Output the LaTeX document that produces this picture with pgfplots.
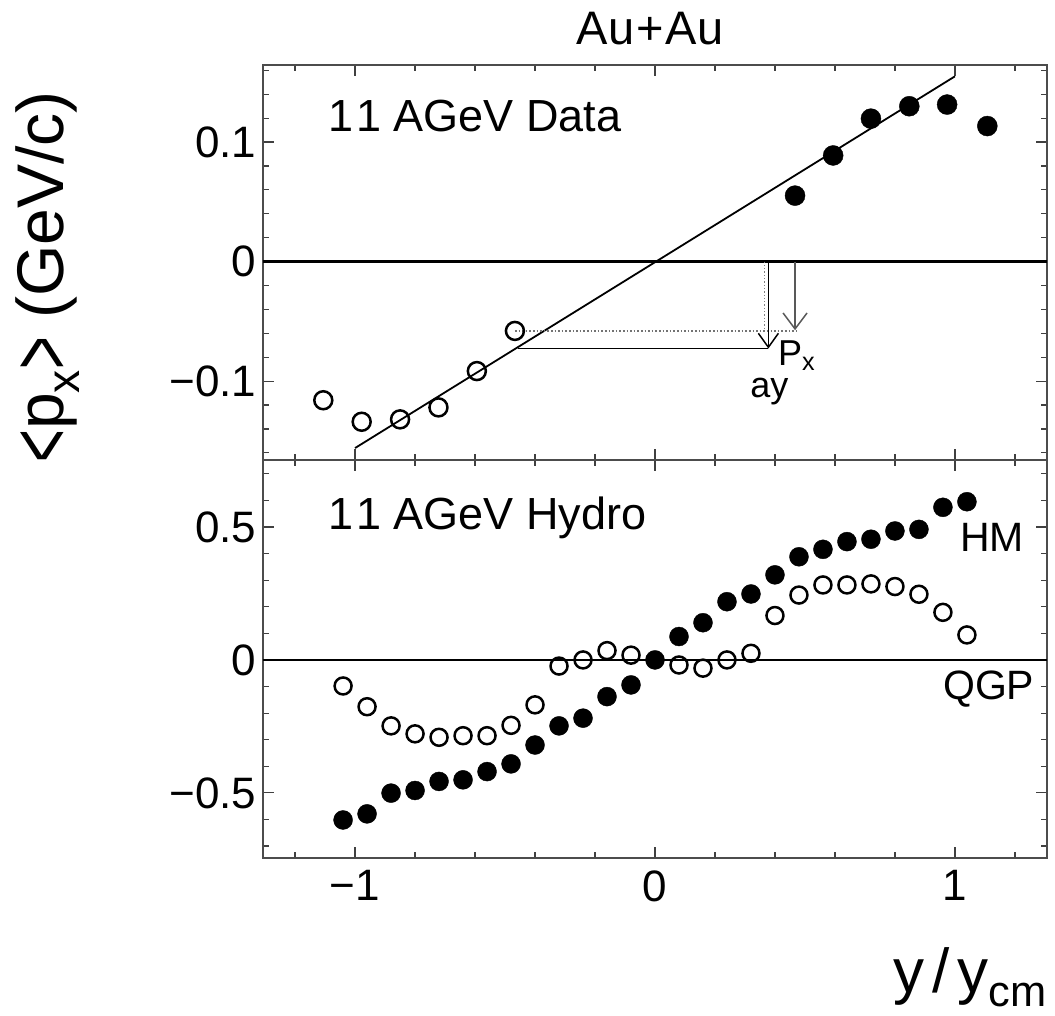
\documentclass[border=0pt]{standalone}
\usepackage{pgfplots}
\pgfplotsset{compat=1.18}
\usepackage{graphicx}
\usepackage{fontspec}
\setmainfont{Liberation Sans}
\usetikzlibrary{arrows.meta}

\begin{document}
\begin{tikzpicture}
\useasboundingbox (-263pt,-157pt) rectangle (792pt,858pt);
\pgfplotsset{
  every axis/.append style={
    scale only axis, width=784pt,
    xmin=-1.307, xmax=1.307,
    axis line style={line width=2.2pt, black!70},
    tick style={line width=1.2pt, black!75},
    major tick length=11pt, minor tick length=6pt,
    tick label style={font=\fontsize{44}{44}\selectfont},
    /pgf/number format/assume math mode=true,
    xtick={-1,0,1},
    minor xtick={-1.2,-0.8,-0.6,-0.4,-0.2,0.2,0.4,0.6,0.8,1.2},
    yticklabel style={xshift=-3pt},
    xticklabel style={yshift=-9pt},
    clip=false,
  }
}
% ---------------- top panel ----------------
\begin{axis}[at={(0,398pt)}, anchor=south west, height=395pt,
  ymin=-0.166, ymax=0.1645,
  ytick={-0.1,0,0.1}, yticklabels={−0.1,0,0.1},
  minor ytick={-0.16,-0.14,-0.12,-0.08,-0.06,-0.04,-0.02,0.02,0.04,0.06,0.08,0.12,0.14,0.16},
  xticklabels={}]
\addplot[black, line width=2.2pt] coordinates {(-1.307,0)(1.307,0)};
\addplot[black, line width=1.8pt] coordinates {(-1,-0.156)(1,0.155)};
\addplot[black!55, dotted, line width=1.6pt] coordinates {(-0.467,-0.058)(0.47,-0.058)};
\addplot[black!50, dotted, line width=1.3pt] coordinates {(0.365,0)(0.365,-0.058)};
\addplot[black, line width=1.5pt] coordinates {(-0.456,-0.0728)(0.378,-0.0728)};
\addplot[black, line width=1.5pt, -{Straight Barb[length=14pt,width=20pt]}] coordinates {(0.378,0)(0.378,-0.0728)};
\addplot[black!65, line width=1.5pt, -{Straight Barb[length=16pt,width=24pt]}] coordinates {(0.467,0)(0.467,-0.0574)};
\addplot[only marks, mark=*, mark size=10pt, black] coordinates {
 (0.467,0.0552)(0.594,0.0888)(0.72,0.1196)(0.848,0.130)(0.974,0.1314)(1.108,0.1134)};
\addplot[only marks, mark=o, mark size=9pt, mark options={line width=2.5pt}, black] coordinates {
 (-1.106,-0.116)(-0.978,-0.134)(-0.85,-0.132)(-0.722,-0.122)(-0.594,-0.0916)(-0.467,-0.058)};
\node[anchor=base west, inner sep=0pt, font=\fontsize{45}{45}\selectfont] at (axis cs:-1.09,0.109) {1\kern3pt1 AGeV Data};
\node[anchor=base west, inner sep=0pt, font=\fontsize{36}{36}\selectfont] at (axis cs:0.41,-0.0868) {P\textsubscript{x}};
\node[anchor=base west, inner sep=0pt, font=\fontsize{36}{36}\selectfont] at (axis cs:0.317,-0.114) {ay};
\node[anchor=base, inner sep=0pt, font=\fontsize{47}{47}\selectfont] at (rel axis cs:0.5,1) [xshift=-5pt, yshift=20pt] {Au\kern2pt+\kern2pt Au};
\end{axis}
% ---------------- bottom panel ----------------
\begin{axis}[at={(0,0)}, anchor=south west, height=398pt,
  ymin=-0.745, ymax=0.752,
  ytick={-0.5,0,0.5}, yticklabels={−0.5,0,0.5},
  minor ytick={-0.7,-0.6,-0.4,-0.3,-0.2,-0.1,0.1,0.2,0.3,0.4,0.6,0.7},
  xticklabels={−1,0,1}]
\addplot[black, line width=2.2pt] coordinates {(-1.307,0)(1.307,0)};
\addplot[only marks, mark=o, mark size=8.5pt, mark options={line width=2.5pt}, black] coordinates {
 (-1.04,-0.098)(-0.96,-0.176)(-0.88,-0.248)(-0.80,-0.278)(-0.72,-0.291)(-0.64,-0.285)
 (-0.56,-0.285)(-0.48,-0.246)(-0.40,-0.169)(-0.32,-0.023)(-0.24,0.0)(-0.16,0.035)(-0.08,0.018)
 (0.08,-0.019)(0.16,-0.031)(0.24,0.0)(0.32,0.025)(0.40,0.167)(0.48,0.244)(0.56,0.282)
 (0.64,0.282)(0.72,0.286)(0.80,0.276)(0.88,0.247)(0.96,0.179)(1.04,0.094)};
\addplot[only marks, mark=*, mark size=9.5pt, black] coordinates {
 (-1.04,-0.602)(-0.96,-0.579)(-0.88,-0.501)(-0.80,-0.491)(-0.72,-0.457)(-0.64,-0.451)
 (-0.56,-0.420)(-0.48,-0.391)(-0.40,-0.320)(-0.32,-0.248)(-0.24,-0.219)(-0.16,-0.138)
 (-0.08,-0.094)(0,0)(0.08,0.088)(0.16,0.14)(0.24,0.219)(0.32,0.248)(0.40,0.320)
 (0.48,0.388)(0.56,0.416)(0.64,0.445)(0.72,0.454)(0.80,0.485)(0.88,0.491)(0.96,0.574)(1.04,0.595)};
\node[anchor=base west, inner sep=0pt, font=\fontsize{45}{45}\selectfont] at (axis cs:-1.09,0.489) {1\kern3pt1 AGeV Hydro};
\node[anchor=base west, inner sep=0pt, font=\fontsize{41}{41}\selectfont] at (axis cs:1.017,0.406) {HM};
\node[anchor=base west, inner sep=0pt, font=\fontsize{41}{41}\selectfont] at (axis cs:0.96,-0.150) {QGP};
\end{axis}
% axis labels
\node[rotate=90, inner sep=0pt, font=\fontsize{66}{66}\selectfont] at (-215pt,581pt)
 {\raisebox{-0.1em}{\scalebox{0.85}[1.3]{<}}p\textsubscript{x}\raisebox{-0.1em}{\scalebox{0.85}[1.3]{>}} (GeV/c)};
\node[anchor=base east, inner sep=0pt, font=\fontsize{62}{62}\selectfont] at (784pt,-134pt) {y\kern8pt/\kern8pt y\textsubscript{cm}};
\end{tikzpicture}
\end{document}
